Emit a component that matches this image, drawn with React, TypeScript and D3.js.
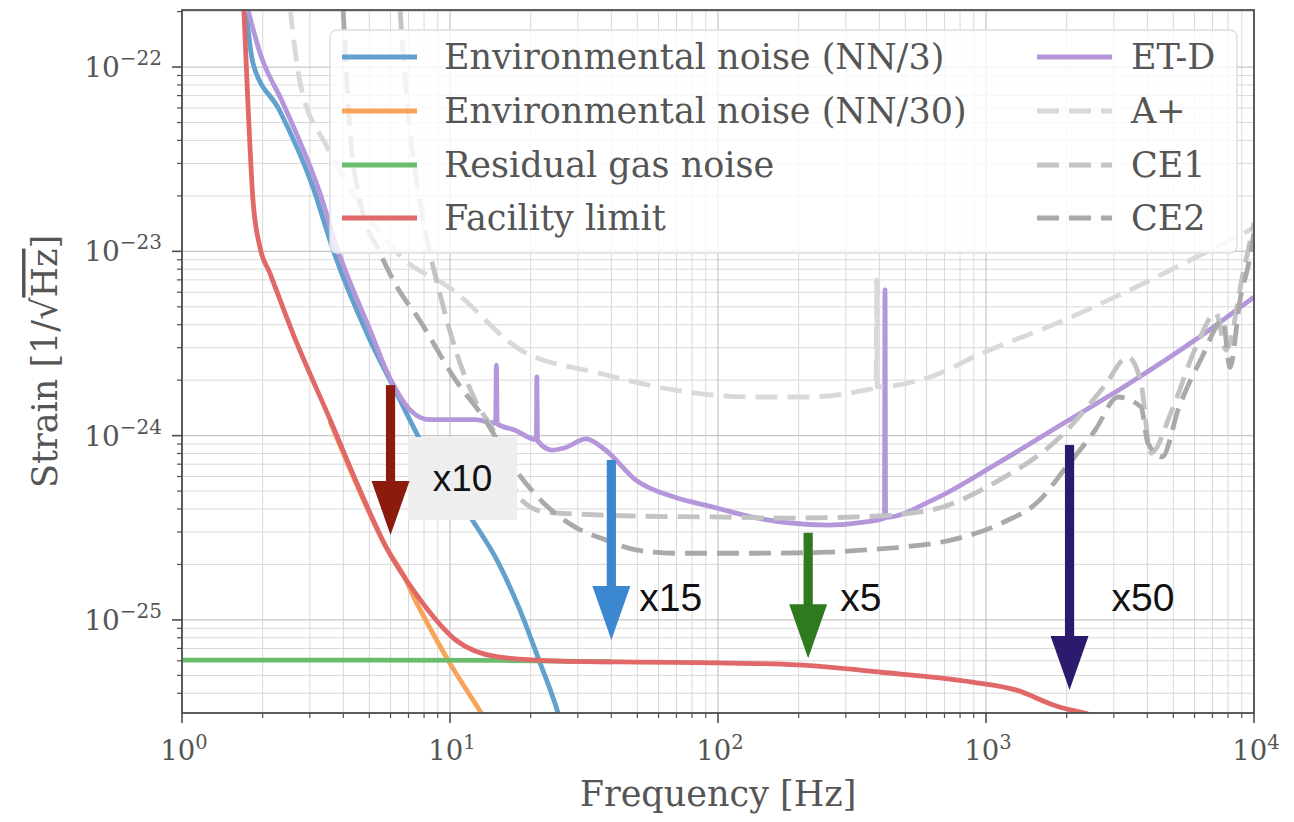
import React from 'react';
import * as d3 from 'd3';

type P = [number, number];

// ---- data (frequency [Hz], strain [1/sqrt(Hz)]) ----
const nn3: P[] = [
  [1.733, 2.04e-22], [1.84, 1.05e-22], [2.30, 5.9e-23], [3.08, 2.23e-23], [3.66, 1.02e-23],
  [5.03, 3.3e-24], [6.23, 1.77e-24], [8.42, 7.55e-25], [12.18, 3.44e-25], [14.97, 2.11e-25],
  [18.24, 1.13e-25], [21.48, 6.05e-26], [25.29, 3.13e-26], [27.0, 2.23e-26],
];
const nn30: P[] = [
  [3.57, 1.19e-24], [4.61, 4.94e-25], [5.77, 2.49e-25], [6.79, 1.69e-25], [7.42, 1.28e-25],
  [8.42, 9.04e-26], [9.83, 6.05e-26], [11.4, 4.27e-26], [13.05, 3.13e-26], [13.6, 2.8e-26],
];
const gas: P[] = [
  [1, 6.05e-26], [5, 6.05e-26], [15, 6.03e-26], [25.7, 5.97e-26], [40, 5.93e-26],
];
const facility: P[] = [
  [1.70, 2.1e-22], [1.76, 6.6e-23], [1.84, 1.9e-23], [1.955, 1.05e-23], [2.13, 7.6e-24],
  [2.59, 3.6e-24], [3.57, 1.22e-24], [4.61, 5.07e-25], [5.77, 2.49e-25], [7.42, 1.4e-25],
  [10.5, 7.78e-26], [15.1, 6.3e-26], [25.7, 5.98e-26], [51.2, 5.9e-26], [100, 5.85e-26],
  [198, 5.7e-26], [408, 5.2e-26], [890, 4.6e-26], [1290, 4.17e-26], [1840, 3.4e-26],
  [2450, 3.05e-26], [3000, 2.75e-26],
];
const etd: P[] = [
  [1.763, 2.04e-22], [1.955, 1.19e-22], [2.38, 6.38e-23], [3.27, 2.07e-23], [3.81, 1.02e-23],
  [5.03, 3.74e-24], [6.02, 2.0e-24], [7.09, 1.38e-24], [8.39, 1.22e-24], [12.4, 1.22e-24],
  [14.8, 1.17e-24], [14.9, 2.41e-24], [15.0, 1.16e-24], [17.5, 1.07e-24], [21.0, 9.5e-25],
  [21.1, 2.08e-24], [21.2, 9.4e-25], [24.0, 8.35e-25], [26.9, 8.6e-25], [32.2, 9.6e-25],
  [38.0, 8.35e-25], [49.4, 5.74e-25], [68.5, 4.64e-25], [95.8, 4.1e-25], [133, 3.62e-25],
  [184, 3.36e-25], [256, 3.27e-25], [357, 3.4e-25], [418, 3.57e-25], [420, 6.17e-24],
  [422, 3.6e-25], [634, 4.48e-25], [1109, 7.1e-25], [1954, 1.17e-24], [3445, 1.93e-24],
  [6026, 3.3e-24], [10000, 5.65e-24],
];
const aplus: P[] = [
  [2.53, 2.1e-22], [2.76, 8.2e-23], [3.48, 3.68e-23], [4.5, 1.9e-23], [6.5, 9.5e-24],
  [10.2, 6.2e-24], [18.4, 2.91e-24], [35.7, 2.19e-24], [68.5, 1.77e-24], [133, 1.62e-24],
  [217, 1.62e-24], [357, 1.77e-24], [389, 1.82e-24], [391, 7.0e-24], [393, 1.84e-24],
  [618, 2.08e-24], [966, 2.8e-24], [1954, 4.23e-24], [3445, 6.17e-24], [6080, 9.3e-24],
  [10000, 1.34e-23],
];
const ce1: P[] = [
  [6.5, 2.1e-22], [6.91, 6.6e-23], [7.7, 1.9e-23], [8.42, 9.8e-24], [9.15, 5.94e-24],
  [10.5, 2.91e-24], [12.4, 1.56e-24], [14.7, 1.03e-24], [18.4, 4.5e-25], [22.6, 3.85e-25],
  [29.3, 3.76e-25], [49.4, 3.66e-25], [95.8, 3.62e-25], [184, 3.57e-25], [333, 3.62e-25],
  [618, 3.94e-25], [1071, 5.53e-25], [1954, 1.03e-24], [2754, 1.84e-24], [3388, 2.67e-24],
  [3787, 1.93e-24], [4127, 8.05e-25], [4945, 1.38e-24], [6080, 3.03e-24], [7211, 4.62e-24],
  [7865, 2.91e-24], [9100, 7.6e-24], [10000, 1.43e-23],
];
const ce2: P[] = [
  [3.99, 2.1e-22], [4.24, 4.38e-23], [4.61, 1.9e-23], [5.48, 9.8e-24], [6.35, 6.4e-24],
  [7.7, 4.23e-24], [10.5, 2.0e-24], [13.3, 1.26e-24], [17.9, 6.27e-25], [22.4, 4.3e-25],
  [29.3, 3.19e-25], [38, 2.72e-25], [49.4, 2.4e-25], [68.5, 2.3e-25], [133, 2.3e-25],
  [256, 2.33e-25], [357, 2.4e-25], [494, 2.49e-25], [747, 2.72e-25], [1148, 3.36e-25],
  [1589, 4.48e-25], [1954, 6.5e-25], [2553, 1.07e-24], [3109, 1.62e-24], [3787, 1.43e-24],
  [4020, 9.1e-25], [4537, 7.66e-25], [5252, 1.43e-24], [6400, 2.67e-24], [7660, 4.23e-24],
  [8130, 2.35e-24], [8870, 5.45e-24], [9660, 9.3e-24], [10000, 1.26e-23],
];

const seriesLabels = [
  'Environmental noise (NN/3)', 'Environmental noise (NN/30)', 'Residual gas noise', 'Facility limit',
  'ET-D', 'A+', 'CE1', 'CE2',
];
const xTickExps = [0, 1, 2, 3, 4];
const yTickExps = [-25, -24, -23, -22];

const arrowFreq = [6, 40, 217, 2050];
const arrowFrom = [1.88e-24, 7.38e-25, 2.97e-25, 8.9e-25];
const arrowTo = [2.89e-25, 7.78e-26, 6.2e-26, 4.17e-26];
const arrowLabels = ['x10', 'x15', 'x5', 'x50'];

const COLORS = {
  nn3: '#62a0cd', nn30: '#f7a45a', gas: '#6bbd6b', facility: '#e06868', etd: '#b497db',
  aplus: '#d9d9d9', ce1: '#c3c3c3', ce2: '#a9a9a9',
};
const arrowColors = ['#8b1c0d', '#3b87d0', '#2f7a1e', '#2c1b6d'];

const SERIF = '"DejaVu Serif", "Liberation Serif", serif';
const SANS = '"Liberation Sans", Arial, sans-serif';
const TEXT = '#555555';

export default function App() {
  const W = 1294, H = 822;
  const L = 182, R = 1254, T = 10, B = 713;
  const x = d3.scaleLog().domain([1, 1e4]).range([L, R]);
  const y = d3.scaleLog().domain([3.125e-26, 2.04e-22]).range([B, T]);
  const line = d3.line<P>().x(d => x(d[0])).y(d => y(d[1])).curve(d3.curveMonotoneX);

  const xMajor = xTickExps.map(e => Math.pow(10, e));
  const xMinor: number[] = [];
  for (let e = 0; e < 4; e++) for (let k = 2; k <= 9; k++) xMinor.push(k * Math.pow(10, e));
  const [yLo, yHi] = y.domain();
  const yMajor = yTickExps.map(e => Math.pow(10, e));
  const yMinor: number[] = [];
  for (let e = -26; e <= -22; e++) for (let k = 2; k <= 9; k++) {
    const v = k * Math.pow(10, e);
    if (v > yLo && v < yHi) yMinor.push(v);
  }

  const solid = [
    { d: nn3, c: COLORS.nn3 }, { d: nn30, c: COLORS.nn30 }, { d: gas, c: COLORS.gas },
    { d: facility, c: COLORS.facility }, { d: etd, c: COLORS.etd },
  ];
  const dashed = [
    { d: aplus, c: COLORS.aplus }, { d: ce1, c: COLORS.ce1 }, { d: ce2, c: COLORS.ce2 },
  ];
  const legendColors = [COLORS.nn3, COLORS.nn30, COLORS.gas, COLORS.facility, COLORS.etd, COLORS.aplus, COLORS.ce1, COLORS.ce2];

  const lw = 4.8;
  const dash = '22,10';

  const lgX = 330, lgY = 30, lgW = 907, lgH = 223;
  const rowY = [57, 111, 165, 218];

  return (
    <svg width={W} height={H} style={{ position: 'absolute', left: 0, top: 0, background: '#fff' }}>
      <defs>
        <clipPath id="plot"><rect x={L} y={T} width={R - L} height={B - T} /></clipPath>
      </defs>
      <rect x={0} y={0} width={W} height={H} fill="#fff" />
      <g>
        {xMinor.map(v => <line key={'xm' + v} x1={x(v)} x2={x(v)} y1={T} y2={B} stroke="#d9d9d9" strokeWidth={1} />)}
        {yMinor.map(v => <line key={'ym' + v} x1={L} x2={R} y1={y(v)} y2={y(v)} stroke="#d9d9d9" strokeWidth={1} />)}
        {xMajor.map(v => <line key={'xM' + v} x1={x(v)} x2={x(v)} y1={T} y2={B} stroke="#c6c6c6" strokeWidth={1.2} />)}
        {yMajor.map(v => <line key={'yM' + v} x1={L} x2={R} y1={y(v)} y2={y(v)} stroke="#c6c6c6" strokeWidth={1.2} />)}
      </g>
      <g clipPath="url(#plot)" fill="none" strokeLinejoin="round">
        {solid.map((s, i) => <path key={'s' + i} d={line(s.d) || ''} stroke={s.c} strokeWidth={lw} />)}
        {dashed.map((s, i) => <path key={'d' + i} d={line(s.d) || ''} stroke={s.c} strokeWidth={lw} strokeDasharray={dash} />)}
      </g>
      <rect x={L} y={T} width={R - L} height={B - T} fill="none" stroke="#4d4d4d" strokeWidth={1.8} />
      <g stroke="#4d4d4d">
        {xMajor.map(v => <line key={'xt' + v} x1={x(v)} x2={x(v)} y1={B} y2={B + 10} strokeWidth={1.6} />)}
        {xMinor.map(v => <line key={'xtm' + v} x1={x(v)} x2={x(v)} y1={B} y2={B + 5} strokeWidth={1.2} />)}
        {yMajor.map(v => <line key={'yt' + v} x1={L - 10} x2={L} y1={y(v)} y2={y(v)} strokeWidth={1.6} />)}
        {yMinor.map(v => <line key={'ytm' + v} x1={L - 5} x2={L} y1={y(v)} y2={y(v)} strokeWidth={1.2} />)}
      </g>
      <g fill={TEXT} fontFamily={SERIF}>
        {xTickExps.map(e => (
          <text key={'xl' + e} x={x(Math.pow(10, e)) + 2} y={B + 47} textAnchor="middle" fontSize={27.5}>
            10<tspan dy={-11} fontSize={19.5}>{e}</tspan>
          </text>
        ))}
        {yTickExps.map(e => (
          <text key={'yl' + e} x={L - 20} y={y(Math.pow(10, e)) + 10} textAnchor="end" fontSize={28}>
            10<tspan dy={-12} fontSize={20}>{'\u2212' + Math.abs(e)}</tspan>
          </text>
        ))}
      </g>
      <text x={(L + R) / 2} y={806} textAnchor="middle" fontFamily={SERIF} fontSize={35} fill={TEXT}>Frequency [Hz]</text>
      <text transform={`translate(57, ${(T + B) / 2}) rotate(-90)`} textAnchor="middle" fontFamily={SERIF} fontSize={35} fill={TEXT}>
        Strain [1/√<tspan style={{ textDecoration: 'overline' }}>Hz</tspan>]
      </text>
      <g>
        <rect x={lgX} y={lgY} width={lgW} height={lgH} rx={7} fill="#ffffff" fillOpacity={0.8} stroke="#dedede" strokeWidth={1.5} />
        {seriesLabels.map((lab, i) => {
          const col = i < 4 ? 0 : 1;
          const row = i % 4;
          const hx = col === 0 ? 342 : 1037;
          const tx = col === 0 ? 444 : 1131;
          const yy = rowY[row];
          return (
            <g key={'lg' + i}>
              <line x1={hx} x2={hx + 75} y1={yy} y2={yy} stroke={legendColors[i]} strokeWidth={lw}
                strokeDasharray={i >= 5 ? dash : undefined} />
              <text x={tx} y={yy + 12} fontFamily={SERIF} fontSize={35} fill={TEXT}>{lab}</text>
            </g>
          );
        })}
      </g>
      <rect x={x(6.97)} y={437} width={x(17.8) - x(6.97)} height={83} fill="#eeeeee" />
      {arrowFreq.map((f, i) => {
        const ax = x(f);
        const y0 = y(arrowFrom[i]);
        const y1 = y(arrowTo[i]);
        const headL = 54, headW = 19, shaft = 4.6;
        return (
          <g key={'ar' + i} fill={arrowColors[i]}>
            <rect x={ax - shaft} y={y0} width={shaft * 2} height={y1 - headL - y0 + 1} />
            <path d={`M${ax - headW},${y1 - headL} L${ax + headW},${y1 - headL} L${ax},${y1} Z`} />
          </g>
        );
      })}
      <g fontFamily={SANS} fontSize={39} fill="#111">
        <text x={(x(6.97) + x(17.8)) / 2} y={491} textAnchor="middle" fontSize={37}>{arrowLabels[0]}</text>
        <text x={x(arrowFreq[1]) + 28} y={611}>{arrowLabels[1]}</text>
        <text x={x(arrowFreq[2]) + 32} y={611}>{arrowLabels[2]}</text>
        <text x={x(arrowFreq[3]) + 42} y={611}>{arrowLabels[3]}</text>
      </g>
    </svg>
  );
}
